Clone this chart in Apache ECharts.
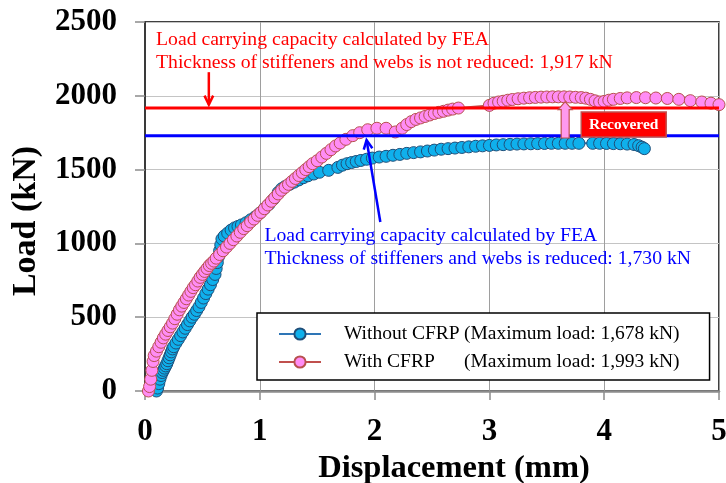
<!DOCTYPE html>
<html><head><meta charset="utf-8">
<script src="https://cdn.jsdelivr.net/npm/echarts@6/dist/echarts.min.js"></script>
<style>html,body{margin:0;padding:0;background:#fff}#c{width:726px;height:483px}</style>
</head><body><div id="c"></div>
<script>
// ---- data ----
const seriesNames = ['Without CFRP', 'With CFRP'];
const maxLoadLabels = ['1,678 kN', '1,993 kN'];

const withoutX = [0.10,0.11,0.12,0.13,0.14,0.15,0.16,0.17,0.18,0.19,0.20,0.21,0.22,0.23,0.24,0.25,0.27,0.29,0.31,0.33,0.35,0.37,0.39,0.41,0.43,0.45,0.47,0.49,0.51,0.53,0.55,0.57,0.59,0.61,0.62,0.63,0.64,0.65,0.66,0.67,0.69,0.72,0.75,0.78,0.81,0.84,0.88,0.92,0.96,1.00,1.04,1.08,1.12,1.16,1.19,1.22,1.26,1.30,1.34,1.38,1.42,1.47,1.52,1.60,1.68,1.72,1.76,1.80,1.84,1.88,1.93,1.98,2.04,2.10,2.16,2.22,2.28,2.34,2.40,2.46,2.52,2.58,2.64,2.70,2.76,2.82,2.88,2.94,3.00,3.06,3.12,3.18,3.24,3.30,3.36,3.42,3.48,3.54,3.60,3.66,3.72,3.78,3.90,3.96,4.02,4.08,4.14,4.20,4.26,4.30,4.33,4.35];
const withoutY = [0,20,50,80,105,125,140,155,170,185,205,225,245,265,285,300,325,350,375,400,425,450,475,500,520,545,570,600,630,660,690,720,755,790,830,870,910,950,990,1030,1050,1070,1090,1105,1115,1125,1140,1160,1180,1205,1235,1265,1300,1345,1370,1385,1400,1415,1430,1445,1458,1470,1482,1495,1515,1530,1540,1548,1555,1562,1570,1578,1585,1590,1597,1603,1610,1615,1620,1626,1632,1638,1642,1646,1650,1654,1658,1661,1664,1667,1669,1671,1673,1674,1675,1676,1677,1678,1678,1678,1678,1678,1678,1678,1677,1676,1675,1673,1670,1662,1652,1642];

const withX = [0.03,0.04,0.05,0.06,0.07,0.08,0.10,0.12,0.14,0.16,0.18,0.20,0.22,0.24,0.26,0.28,0.30,0.32,0.34,0.36,0.38,0.40,0.42,0.44,0.46,0.48,0.50,0.52,0.54,0.56,0.58,0.60,0.62,0.65,0.68,0.71,0.74,0.77,0.80,0.83,0.86,0.89,0.92,0.95,0.98,1.01,1.04,1.07,1.10,1.13,1.16,1.19,1.22,1.25,1.28,1.31,1.34,1.37,1.40,1.43,1.46,1.50,1.54,1.58,1.62,1.66,1.70,1.75,1.81,1.87,1.94,2.02,2.10,2.18,2.24,2.28,2.32,2.36,2.40,2.44,2.48,2.52,2.56,2.60,2.64,2.68,2.73,3.00,3.04,3.08,3.12,3.16,3.20,3.25,3.30,3.35,3.40,3.45,3.50,3.55,3.60,3.65,3.70,3.75,3.80,3.84,3.88,3.92,3.96,4.00,4.04,4.08,4.14,4.20,4.28,4.36,4.45,4.55,4.65,4.75,4.85,4.93,5.00];
const withY = [0,30,80,140,200,240,270,300,330,360,385,410,435,460,490,520,550,575,600,625,650,675,700,720,745,770,790,810,830,850,865,880,900,925,950,975,1000,1025,1050,1075,1100,1120,1145,1165,1190,1210,1235,1260,1285,1310,1335,1360,1380,1400,1420,1440,1460,1480,1500,1520,1540,1560,1585,1610,1635,1660,1680,1705,1730,1750,1770,1780,1780,1755,1780,1805,1825,1840,1850,1860,1870,1880,1888,1895,1903,1910,1917,1935,1950,1958,1963,1970,1975,1980,1984,1987,1989,1991,1992,1993,1993,1993,1992,1990,1988,1984,1976,1966,1958,1962,1970,1976,1982,1986,1988,1987,1985,1982,1976,1967,1958,1950,1940];

const xTicks = [0, 1, 2, 3, 4, 5];
const yTicks = [0, 500, 1000, 1500, 2000, 2500];
const feaNotReduced = 1917;
const feaReduced = 1730;
const noteRed = ['Load carrying capacity calculated by FEA', 'Thickness of stiffeners and webs is not reduced: 1,917 kN'];
const noteBlue = ['Load carrying capacity calculated by FEA', 'Thickness of stiffeners and webs is reduced: 1,730 kN'];
const recoveredLabel = 'Recovered';

// ---- chart ----
const SERIF = "'Liberation Serif','Times New Roman',serif";
const zip = (a, b) => a.map((v, i) => [v, b[i]]);
const chart = echarts.init(document.getElementById('c'), null, {renderer: 'canvas'});

const option = {
  animation: false,
  backgroundColor: '#fff',
  grid: {left: 145, right: 7, top: 22, bottom: 92, show: true, borderColor: '#000', borderWidth: 1.5, backgroundColor: 'transparent',
    containLabel: false, outerBoundsMode: 'none'},
  xAxis: {
    type: 'value', min: xTicks[0], max: xTicks[xTicks.length - 1], interval: 1,
    name: 'Displacement (mm)', nameLocation: 'middle', nameGap: 52,
    nameTextStyle: {fontFamily: SERIF, fontWeight: 'bold', fontSize: 32.5, color: '#000', padding: [0, 0, 0, 44]},
    axisLine: {show: true, onZero: false, lineStyle: {color: '#8c8c8c', width: 2.5}},
    axisTick: {show: true, inside: false, length: 9, lineStyle: {color: '#8c8c8c', width: 1.5}},
    axisLabel: {fontFamily: SERIF, fontWeight: 'bold', fontSize: 31, color: '#000', margin: 25, formatter: v => String(v)},
    splitLine: {show: true, lineStyle: {color: '#9e9e9e', width: 1}}
  },
  yAxis: {
    type: 'value', min: yTicks[0], max: yTicks[yTicks.length - 1], interval: 500,
    name: 'Load (kN)', nameLocation: 'middle', nameGap: 102, nameRotate: 90,
    nameTextStyle: {fontFamily: SERIF, fontWeight: 'bold', fontSize: 34, color: '#000', padding: [0, 29, 0, 0]},
    axisLine: {show: true, onZero: false, lineStyle: {color: '#3a3a3a', width: 2}},
    axisTick: {show: true, inside: false, length: 10, lineStyle: {color: '#8c8c8c', width: 1.5}},
    axisLabel: {fontFamily: SERIF, fontWeight: 'bold', fontSize: 31, color: '#000', margin: 28, formatter: v => String(v)},
    splitLine: {show: true, lineStyle: {color: '#c4c4c4', width: 1}}
  },
  legend: {
    data: seriesNames, orient: 'vertical', left: 257, top: 313,
    backgroundColor: '#fff', borderColor: '#000', borderWidth: 1.5,
    padding: [10, 30, 7, 21], itemWidth: 42, itemHeight: 14, itemGap: 6,
    textStyle: {fontFamily: SERIF, fontSize: 19.5, color: '#000', lineHeight: 22,
      rich: {a: {fontFamily: SERIF, fontSize: 19.5, width: 120, padding: [0, 0, 0, 18]}, b: {fontFamily: SERIF, fontSize: 19.5}}},
    formatter: n => `{a|${n}}{b|(Maximum load: ${maxLoadLabels[seriesNames.indexOf(n)]})}`
  },
  series: [
    {name: seriesNames[0], type: 'line', data: zip(withoutX, withoutY), symbol: 'circle', symbolSize: 12, z: 2,
      lineStyle: {color: '#2e75b6', width: 2}, itemStyle: {color: '#0fb0ec', borderColor: '#1f4e79', borderWidth: 1}},
    {name: seriesNames[1], type: 'line', data: zip(withX, withY), symbol: 'circle', symbolSize: 12, z: 3,
      lineStyle: {color: '#c0504d', width: 2}, itemStyle: {color: '#ff8cf5', borderColor: '#b8504e', borderWidth: 1}},
    {name: 'FEA not reduced', type: 'line', data: [[xTicks[0], feaNotReduced], [xTicks[5], feaNotReduced]], symbol: 'none', silent: true, z: 4,
      lineStyle: {color: '#ff0000', width: 3}},
    {name: 'FEA reduced', type: 'line', data: [[xTicks[0], feaReduced], [xTicks[5], feaReduced]], symbol: 'none', silent: true, z: 4,
      lineStyle: {color: '#0000ff', width: 3}}
  ]
};
chart.setOption(option);

function P(x, y) { return chart.convertToPixel({gridIndex: 0}, [x, y]); }
function arrowLine(from, to, color, id) {
  const a = P(from[0], from[1]), b = P(to[0], to[1]);
  const ang = Math.atan2(b[1] - a[1], b[0] - a[0]);
  const L = 10, w = 0.45;
  const h1 = [b[0] - L * Math.cos(ang - w), b[1] - L * Math.sin(ang - w)];
  const h2 = [b[0] - L * Math.cos(ang + w), b[1] - L * Math.sin(ang + w)];
  return [
    {type: 'line', id: id + 'l', z: 20, shape: {x1: a[0], y1: a[1], x2: b[0], y2: b[1]}, style: {stroke: color, lineWidth: 2.5}},
    {type: 'polyline', id: id + 'h', z: 20, shape: {points: [h1, b, h2]}, style: {stroke: color, lineWidth: 2.5, fill: null}}
  ];
}
const redTxt = P(0.096, 2300), blueTxt = P(1.04, 976);
const bx = P(3.66, feaNotReduced), tipY = P(3.66, 1960)[1], baseY = P(3.66, 1714)[1];
const headY = tipY + 8;
const recTL = P(3.80, 1890), recBR = P(4.54, 1721);
const graphics = [
  {type: 'text', z: 20, x: redTxt[0], y: redTxt[1], style: {text: noteRed.join('\n'), fill: '#ff0000', font: `19.7px ${SERIF}`, lineHeight: 23, verticalAlign: 'middle', align: 'left'}},
  {type: 'text', z: 20, x: blueTxt[0], y: blueTxt[1], style: {text: noteBlue.join('\n'), fill: '#0000ff', font: `19.7px ${SERIF}`, lineHeight: 23, verticalAlign: 'middle', align: 'left'}},
  ...arrowLine([0.556, 2160], [0.556, 1940], '#ff0000', 'ra'),
  ...arrowLine([2.05, 1145], [1.93, 1700], '#0000ff', 'ba'),
  {type: 'polygon', z: 20, shape: {points: [[bx[0], tipY], [bx[0] + 7, headY], [bx[0] + 4, headY], [bx[0] + 4, baseY], [bx[0] - 4, baseY], [bx[0] - 4, headY], [bx[0] - 7, headY]]},
    style: {fill: '#ff99ee', stroke: '#c0504d', lineWidth: 1.2}},
  {type: 'rect', z: 20, shape: {x: recTL[0], y: recTL[1], width: recBR[0] - recTL[0], height: recBR[1] - recTL[1]},
    style: {fill: '#ff0000', stroke: '#c0504d', lineWidth: 1.5}},
  {type: 'text', z: 21, x: (recTL[0] + recBR[0]) / 2, y: (recTL[1] + recBR[1]) / 2,
    style: {text: recoveredLabel, fill: '#fff', font: `bold 15.5px ${SERIF}`, align: 'center', verticalAlign: 'middle'}}
];
chart.setOption({graphic: graphics});
</script></body></html>
